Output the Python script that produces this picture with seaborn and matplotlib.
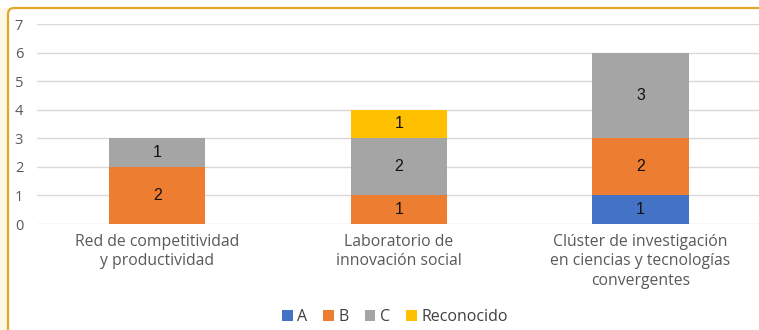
import matplotlib
matplotlib.use("Agg")
import matplotlib.pyplot as plt
from matplotlib.patches import FancyBboxPatch, Rectangle, Patch
import numpy as np
import seaborn as sns

# Data
categories = [
    "Red de competitividad y productividad",
    "Laboratorio de innovación social",
    "Clúster de investigación en ciencias y tecnologías convergentes",
]
tick_labels = [
    "Red de competitividad\ny productividad",
    "Laboratorio de\ninnovación social",
    "Clúster de investigación\nen ciencias y tecnologías\nconvergentes",
]
series_names = ["A", "B", "C", "Reconocido"]
values_A = [0, 0, 1]
values_B = [2, 1, 2]
values_C = [1, 2, 3]
values_Reconocido = [0, 1, 0]
series_values = [values_A, values_B, values_C, values_Reconocido]
colors = ["#4472C4", "#ED7D31", "#A5A5A5", "#FFC000"]

sns.set_theme(style="white")
plt.rcParams["font.family"] = ["Open Sans", "DejaVu Sans"]

fig = plt.figure(figsize=(7.59, 3.30), dpi=100)
ax = fig.add_axes([37 / 759, 106 / 330, 1 - 37 / 759, 200 / 330])

bottom = np.zeros(len(categories))
for name, vals, col in zip(series_names, series_values, colors):
    sns.barplot(x=categories, y=vals, bottom=bottom, color=col, saturation=1,
                width=0.4, ax=ax, edgecolor="none", linewidth=0, zorder=3)
    cont = ax.containers[-1]
    labels = [str(v) if v else "" for v in vals]
    ax.bar_label(cont, labels=labels, label_type="center", fontsize=11.5,
                 color="#111111", family=["Liberation Sans", "DejaVu Sans"])
    bottom = bottom + np.array(vals)

ax.set_ylim(0, 7)
ax.set_xlim(-0.497, 2.49)
ax.set_yticks(range(0, 8))
ax.yaxis.grid(True, color="#D9D9D9", linewidth=1.0, zorder=0)
ax.set_axisbelow(True)
for s in ax.spines.values():
    s.set_visible(False)
ax.set_xticks(range(len(categories)))
ax.set_xticklabels(tick_labels, fontsize=11.3, color="#595959", linespacing=1.3)
ax.tick_params(axis="x", length=0, pad=7)
ax.tick_params(axis="y", length=0, labelsize=10.5, labelcolor="#595959")
for t in ax.get_yticklabels():
    t.set_horizontalalignment("left")
ax.yaxis.set_tick_params(pad=16)
ax.set_xlabel("")
ax.set_ylabel("")

handles = [Patch(facecolor=c, edgecolor="none") for c in colors]
fig.legend(handles, series_names, loc="center", bbox_to_anchor=(395 / 759, 13 / 330),
           ncol=4, frameon=False, fontsize=11.5, handlelength=0.65, handleheight=0.65,
           handletextpad=0.3, columnspacing=1.0, labelcolor="#404040")

# Cream margin and rounded gold frame
fig.patches.append(Rectangle((0, 0), 0.08, 3.22, transform=fig.dpi_scale_trans,
                             facecolor="#FFF7E6", edgecolor="none", zorder=-1))
fig.patches.append(FancyBboxPatch((0.08, -0.5), 8.0, 3.72,
                                  boxstyle="round,pad=0,rounding_size=0.06",
                                  transform=fig.dpi_scale_trans, fill=False,
                                  edgecolor="#E2A62A", linewidth=1.6, clip_on=False))

fig.savefig("out.png", dpi=100)
